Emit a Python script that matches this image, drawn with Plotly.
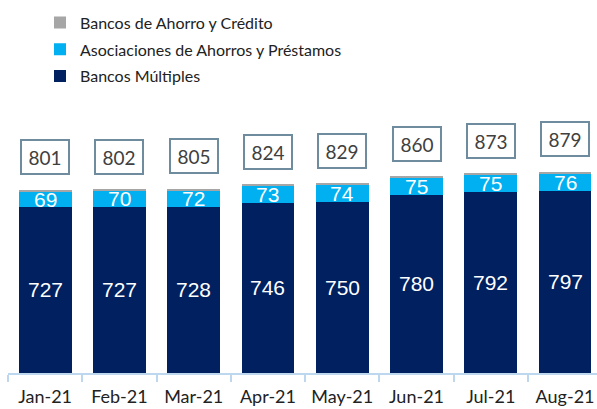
import plotly.graph_objects as go

months = ["Jan-21", "Feb-21", "Mar-21", "Apr-21", "May-21", "Jun-21", "Jul-21", "Aug-21"]
bancos_multiples = [727, 727, 728, 746, 750, 780, 792, 797]
asociaciones = [69, 70, 72, 73, 74, 75, 75, 76]
bancos_ahorro = [5, 5, 5, 5, 5, 5, 6, 6]
totals = [801, 802, 805, 824, 829, 860, 873, 879]

NAVY = "#002060"
CYAN = "#00B0F0"
GRAY = "#A6A6A6"
BW = 0.71

fig = go.Figure()
fig.add_trace(go.Bar(x=months, y=bancos_multiples, name="Bancos Múltiples", legendgroup="bm",
                     legendrank=3, marker=dict(color=NAVY, line=dict(width=0)), width=BW))
fig.add_trace(go.Bar(x=months, y=asociaciones, name="Asociaciones de Ahorros y Préstamos",
                     legendgroup="aap", legendrank=2,
                     marker=dict(color=CYAN, line=dict(width=0)), width=BW))
fig.add_trace(go.Bar(x=months, y=bancos_ahorro, name="Bancos de Ahorro y Crédito", legendgroup="bac",
                     legendrank=1, marker=dict(color=GRAY, line=dict(width=0)), width=BW))

ann = []
for i, m in enumerate(months):
    ann.append(dict(x=m, y=bancos_multiples[i] / 2, text=str(bancos_multiples[i]),
                    showarrow=False, font=dict(family="Liberation Sans", size=21, color="white")))
    ann.append(dict(x=m, y=bancos_multiples[i] + asociaciones[i] / 2, text=str(asociaciones[i]),
                    showarrow=False, font=dict(family="Liberation Sans", size=21, color="white")))
    ann.append(dict(x=m, y=totals[i] + 144, text=str(totals[i]), showarrow=False,
                    font=dict(family="Lato", size=19, color="#404040"),
                    width=36, height=22, align="center", valign="middle",
                    bordercolor="#6F8C9E", borderwidth=2, borderpad=5, bgcolor="white"))

fig.update_layout(
    barmode="stack",
    width=597, height=409,
    margin=dict(l=8, r=0, t=0, b=36, autoexpand=False),
    paper_bgcolor="white", plot_bgcolor="white",
    showlegend=True,
    legend=dict(traceorder="grouped", x=32 / 589, y=0.985, xanchor="left", yanchor="top",
                font=dict(family="Lato", size=16, color="#222222"),
                itemwidth=30, tracegroupgap=3, bgcolor="rgba(0,0,0,0)"),
    annotations=ann,
    xaxis=dict(type="category", range=[-0.5, 7.43], showline=True, linecolor="#BDD7EE",
               linewidth=1.5, ticks="outside", tickson="boundaries", ticklen=7,
               tickcolor="#BDD7EE", tickwidth=1.5, showgrid=False, ticklabelstandoff=7,
               tickangle=0, automargin=False,
               tickfont=dict(family="Lato", size=18, color="#222222")),
    yaxis=dict(range=[0, 1633], visible=False, showgrid=False, zeroline=False),
)

fig.write_html("out.html", config={"displayModeBar": False},
               post_script="document.body.style.margin='0';")
